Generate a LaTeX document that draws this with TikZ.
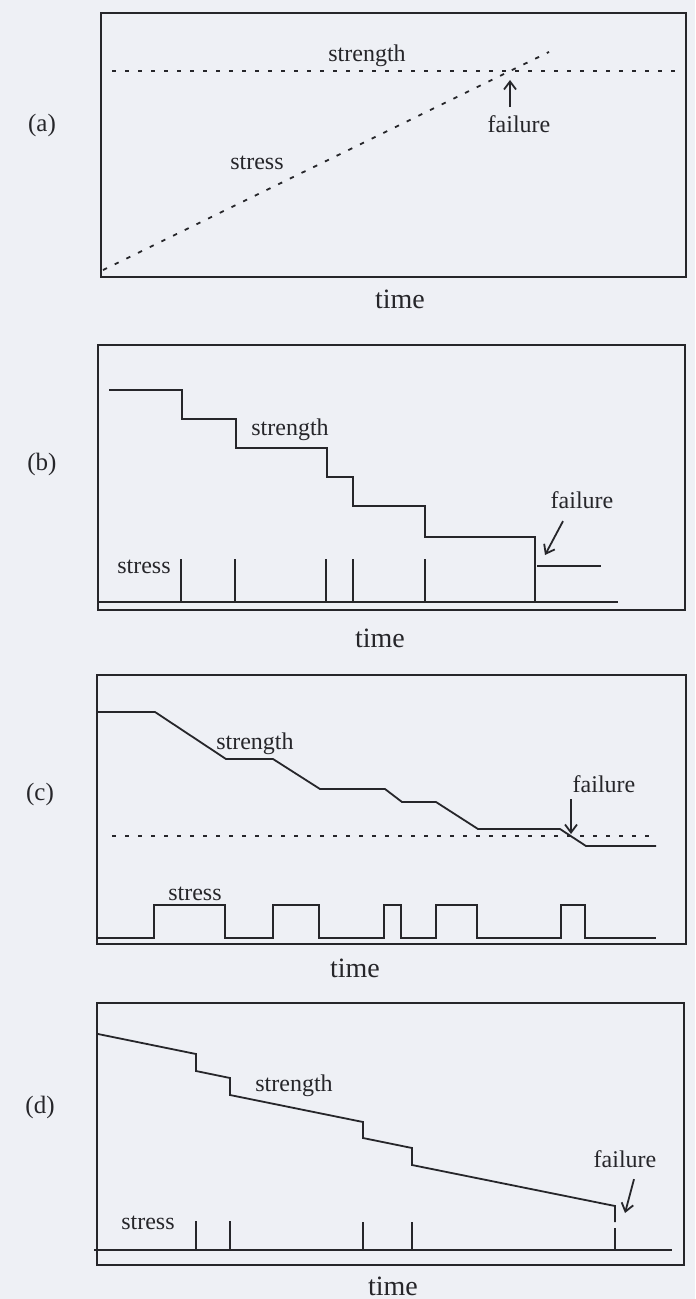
\documentclass[tikz,border=0pt]{standalone}
\usepackage{fontspec}
\setmainfont{Liberation Serif}
\usetikzlibrary{arrows.meta}
\definecolor{ink}{RGB}{38,38,42}
\definecolor{paper}{RGB}{238,240,245}

\begin{document}
\begin{tikzpicture}[x=0.5pt,y=-0.5pt,>={Straight Barb[length=4pt,width=6pt]},line width=0.9pt,color=ink,
  every node/.style={font=\fontsize{12}{14}\selectfont,text=ink,inner sep=1pt,anchor=base},
  trace/.style={line join=miter},
  dotline/.style={dash pattern=on 2.2pt off 4.3pt},
  axis/.style={font=\fontsize{14}{16}\selectfont},
  tag/.style={font=\fontsize{12.5}{15}\selectfont}]
\fill[paper] (0,0) rectangle (695,1299);
\useasboundingbox (0,0) rectangle (695,1299);
% (a)
\draw (101,13) rectangle (686,277);
\draw[dotline] (112,71)--(680,71);
\draw[dotline] (103,270)--(549,52);
\node (strA) at (367,62) {strength};
\node (stsA) at (257,170) {stress};
\node (failA) at (519,133) {failure};
\coordinate (hitA) at (510,80);
\draw[->,shorten <=3pt] (failA.north -| hitA)--(hitA);
\node[axis] (timeA) at (400,308) {time};
\node[tag] (tagA) at (42,132) {(a)};
% (b)
\draw (98,345) rectangle (685,610);
\draw (98,602)--(618,602);
\draw[trace] (109,390) -| (182,419) -| (236,448) -| (327,477) -| (353,506) -| (425,537) -| (535,602);
\draw (537,566)--(601,566);
\foreach \x in {181,235,326,353,425} \draw (\x,602)--(\x,559);
\node (strB) at (290,435) {strength};
\node (stsB) at (144,573) {stress};
\node (failB) at (582,508) {failure};
\coordinate (hitB) at (545,555);
\draw[->] (failB.south) ++(-19,10)--(hitB);
\node[axis] (timeB) at (380,647) {time};
\node[tag] (tagB) at (42,470) {(b)};
% (c)
\draw (97,675) rectangle (686,944);
\draw[trace] (98,712)--(155,712)--(226,759)--(273,759)--(320,789)--(385,789)--(402,802)--(436,802)--(478,829)--(560,829)--(586,846)--(656,846);
\draw[dotline] (112,836)--(656,836);
\draw[trace] (97,938) -| (154,905) -| (225,938) -| (273,905) -| (319,938) -| (384,905) -| (401,938) -| (436,905) -| (477,938) -| (561,905) -| (585,938)--(656,938);
\node (strC) at (255,749) {strength};
\node (stsC) at (195,900) {stress};
\node (failC) at (604,792) {failure};
\coordinate (hitC) at (571,834);
\draw[->,shorten <=2pt] (failC.south -| hitC)--(hitC);
\node[axis] (timeC) at (355,977) {time};
\node[tag] (tagC) at (40,800) {(c)};
% (d)
\draw (97,1003) rectangle (684,1265);
\draw (94,1250)--(672,1250);
\draw[trace] (98,1034)--(196,1054)--(196,1071)--(230,1078)--(230,1095)--(363,1122)--(363,1138)--(412,1148)--(412,1165)--(615,1206)--(615,1222);
\foreach \x/\t in {196/1221,230/1221,363/1222,412/1222,615/1228} \draw (\x,1250)--(\x,\t);
\node (strD) at (294,1091) {strength};
\node (stsD) at (148,1229) {stress};
\node (failD) at (625,1167) {failure};
\coordinate (hitD) at (625,1213);
\draw[->] (failD.south) ++(9,9)--(hitD);
\node[axis] (timeD) at (393,1295) {time};
\node[tag] (tagD) at (40,1113) {(d)};
\end{tikzpicture}
\end{document}
